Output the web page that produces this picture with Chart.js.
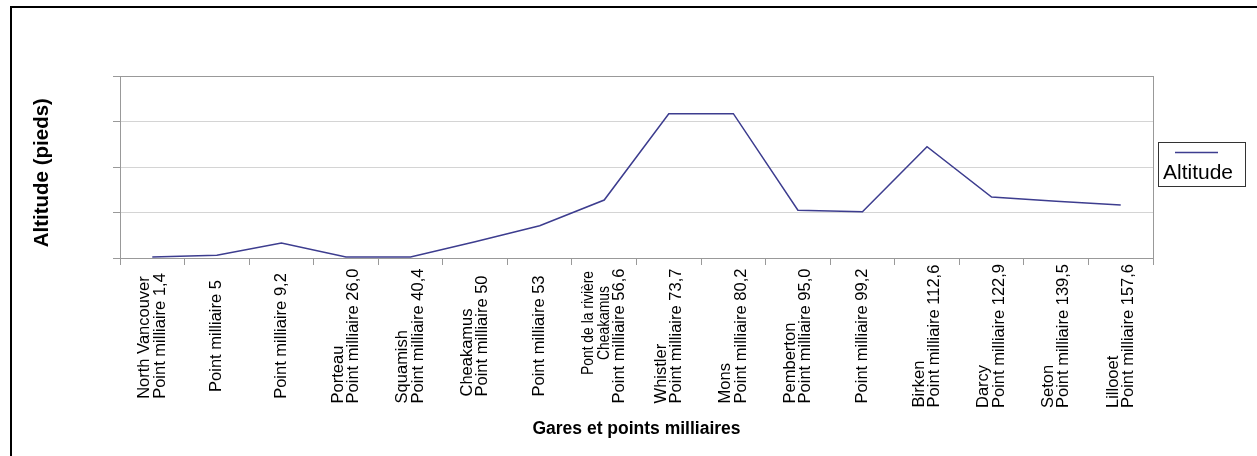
<!DOCTYPE html>
<html lang="fr">
<head>
  <meta charset="UTF-8" />
  <title>Altitude - Gares et points milliaires</title>
  <script src="https://cdn.jsdelivr.net/npm/chart.js"></script>
  <style>
    html, body { margin: 0; padding: 0; background: #fff; }
    #wrap { position: relative; width: 1257px; height: 456px; overflow: hidden; }
    #frame { position: absolute; left: 10px; top: 6px; width: 1260px; height: 460px; border: 2px solid #000; box-sizing: border-box; }
    canvas { position: absolute; left: 0; top: 0; }
  </style>
</head>
<body>
  <div id="wrap">
    <div id="frame"></div>
    <canvas id="altChart" width="1257" height="456"></canvas>
  </div>
  <script>
    const stations = [
      ['North Vancouver', 'Point milliaire 1,4'],
      'Point milliaire 5',
      'Point milliaire 9,2',
      ['Porteau', 'Point milliaire 26,0'],
      ['Squamish', 'Point milliaire 40,4'],
      ['Cheakamus', 'Point milliaire 50'],
      'Point milliaire 53',
      ['Pont de la rivière', 'Cheakamus', 'Point milliaire 56,6'],
      ['Whistler', 'Point milliaire 73,7'],
      ['Mons', 'Point milliaire 80,2'],
      ['Pemberton', 'Point milliaire 95,0'],
      'Point milliaire 99,2',
      ['Birken', 'Point milliaire 112,6'],
      ['Darcy', 'Point milliaire 122,9'],
      ['Seton', 'Point milliaire 139,5'],
      ['Lillooet', 'Point milliaire 157,6']
    ];
    // altitude (no tick values shown)
    const altitude = [15, 42, 231, 15, 15, 251, 497, 892, 2220, 2220, 734, 712, 1712, 938, 872, 815];
    const yMax = 2800;
    const yStep = 700;

    const lineColor = '#3d3d8f';
    const font = 'Liberation Sans, Arial, sans-serif';
    const labelSize = 16.5;
    const lineGap = 15.5;
    const labelMid = 336;
    const wrappedLabel = 7; // its caption lines are wrapped, squeezed and centred

    // grey frame round the plot area
    const plotBorder = {
      id: 'plotBorder',
      afterDraw(chart) {
        const a = chart.chartArea, ctx = chart.ctx;
        ctx.save();
        ctx.strokeStyle = '#999';
        ctx.lineWidth = 1;
        ctx.strokeRect(a.left + 0.5, a.top + 0.5, a.right - a.left, a.bottom - a.top);
        ctx.restore();
      }
    };

    // vertical station labels, each block centred under its tick, lines start-aligned
    const stationLabels = {
      id: 'stationLabels',
      afterDraw(chart) {
        const ctx = chart.ctx, xs = chart.scales.x;
        ctx.save();
        ctx.fillStyle = '#000';
        ctx.textBaseline = 'middle';
        ctx.font = labelSize + 'px ' + font;
        chart.data.labels.forEach((lab, i) => {
          const lines = [].concat(lab);
          const w = Math.max(...lines.map(l => ctx.measureText(l).width));
          const x0 = xs.getPixelForTick(i) - (lines.length - 1) * lineGap / 2;
          lines.forEach((l, k) => {
            const squeezed = i === wrappedLabel && k < lines.length - 1;
            ctx.save();
            if (squeezed) {
              ctx.textAlign = 'center';
              ctx.translate(x0 + k * lineGap, labelMid - 13);
              ctx.rotate(-Math.PI / 2);
              ctx.scale(0.84, 1);
            } else {
              ctx.textAlign = 'left';
              ctx.translate(x0 + k * lineGap, labelMid + w / 2);
              ctx.rotate(-Math.PI / 2);
            }
            ctx.fillText(l, 0, 0);
            ctx.restore();
          });
        });
        ctx.restore();
      }
    };

    // legend box on the right, line sample above the text
    const sideLegend = {
      id: 'sideLegend',
      afterDraw(chart) {
        const ctx = chart.ctx, ds = chart.data.datasets[0];
        ctx.save();
        ctx.strokeStyle = '#333';
        ctx.lineWidth = 1;
        ctx.strokeRect(1158.5, 142.5, 87, 44);
        ctx.strokeStyle = ds.borderColor;
        ctx.lineWidth = 1.5;
        ctx.beginPath();
        ctx.moveTo(1175, 152.5);
        ctx.lineTo(1218, 152.5);
        ctx.stroke();
        ctx.fillStyle = '#000';
        ctx.font = '21px ' + font;
        ctx.textBaseline = 'alphabetic';
        ctx.fillText(ds.label, 1163, 179);
        ctx.restore();
      }
    };

    new Chart(document.getElementById('altChart'), {
      type: 'line',
      data: {
        labels: stations,
        datasets: [{
          label: 'Altitude',
          data: altitude,
          borderColor: lineColor,
          backgroundColor: lineColor,
          borderWidth: 1.5,
          pointRadius: 0,
          tension: 0,
          fill: false
        }]
      },
      options: {
        responsive: false,
        animation: false,
        devicePixelRatio: 1,
        layout: { padding: { left: 30, top: 76, right: 104, bottom: 16 } },
        plugins: { legend: { display: false }, tooltip: { enabled: false } },
        scales: {
          x: {
            offset: true,
            grid: { drawOnChartArea: false, drawTicks: true, tickLength: 7, color: '#999', offset: true },
            border: { color: '#888' },
            ticks: { autoSkip: false, display: false },
            title: {
              display: true,
              text: 'Gares et points milliaires',
              color: '#000',
              padding: 0,
              font: { family: font, size: 17.5, weight: 'bold' }
            },
            afterFit(scale) { scale.height = 456 - 16 - 258; }
          },
          y: {
            min: 0,
            max: yMax,
            ticks: { stepSize: yStep, display: false },
            grid: { color: '#d4d4d4', tickColor: '#999', tickLength: 7, drawTicks: true },
            border: { color: '#888' },
            title: {
              display: true,
              text: 'Altitude (pieds)  ',
              color: '#000',
              padding: 0,
              font: { family: font, size: 20.5, weight: 'bold' }
            },
            afterFit(scale) { scale.width = 120 - 30; }
          }
        }
      },
      plugins: [plotBorder, stationLabels, sideLegend]
    });
  </script>
</body>
</html>
